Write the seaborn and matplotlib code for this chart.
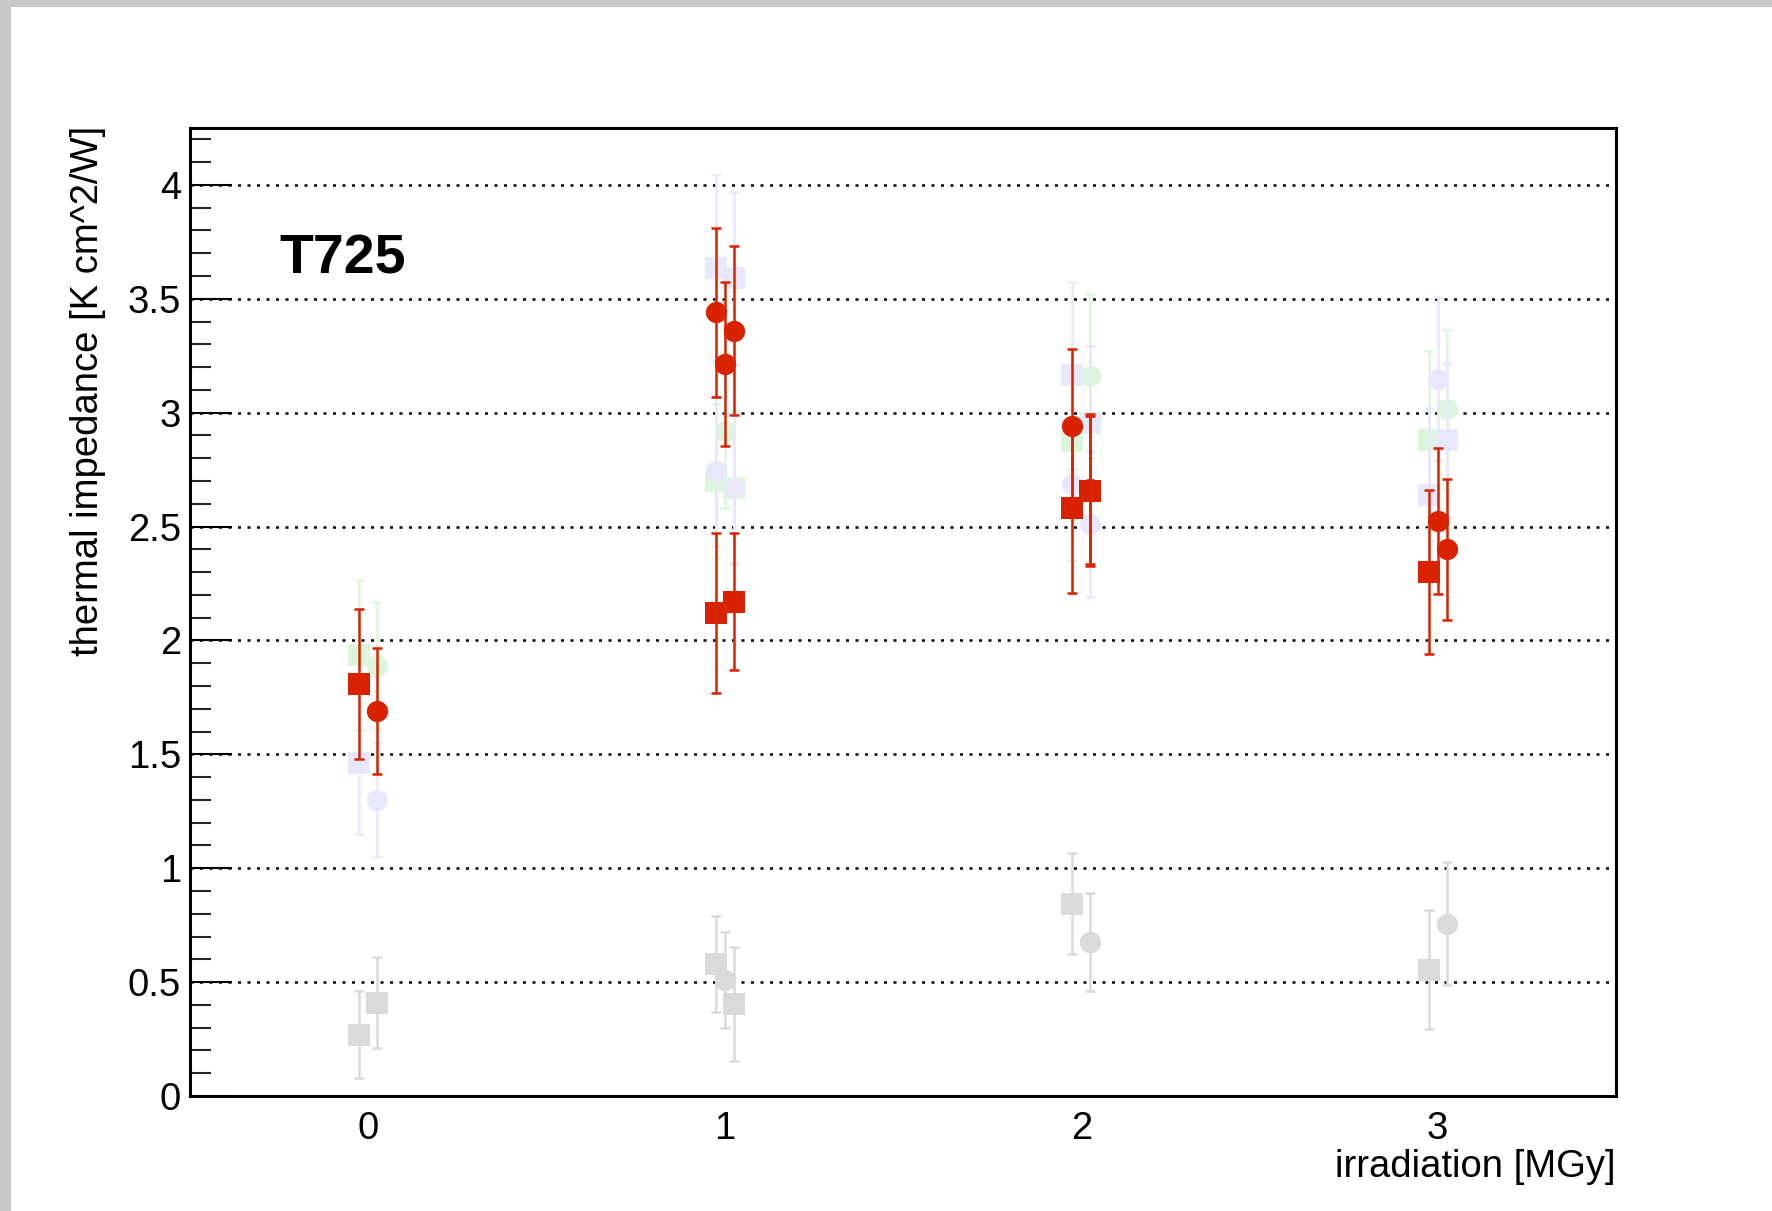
import numpy as np
import pandas as pd
import matplotlib
matplotlib.use("Agg")
import matplotlib.pyplot as plt
from matplotlib.patches import Rectangle
from matplotlib.ticker import MultipleLocator, FixedLocator, FixedFormatter
import seaborn as sns

# ---------------- data ----------------
dose_ticks = [0, 1, 2, 3]
dose_tick_labels = ["0", "1", "2", "3"]

# red squares (T725)
red_sq_dose = [0, 1, 1, 2, 2, 3]
red_sq_slot = [-1, -1, 1, -1, 1, -1]
red_sq_val = [1.81, 2.12, 2.17, 2.58, 2.655, 2.30]
red_sq_err = [0.33, 0.35, 0.30, 0.37, 0.33, 0.36]

# red circles (T725)
red_ci_dose = [0, 1, 1, 1, 2, 2, 3, 3]
red_ci_slot = [1, -1, 0, 1, -1, 1, 0, 1]
red_ci_val = [1.69, 3.44, 3.215, 3.36, 2.94, 2.665, 2.525, 2.40]
red_ci_err = [0.275, 0.37, 0.36, 0.37, 0.34, 0.33, 0.32, 0.31]

# light blue squares
blue_sq_dose = [0, 1, 1, 2, 2, 3, 3]
blue_sq_slot = [-1, -1, 1, -1, 1, -1, 1]
blue_sq_val = [1.46, 3.635, 3.59, 3.165, 2.955, 2.64, 2.88]
blue_sq_err = [0.31, 0.41, 0.38, 0.41, 0.34, 0.38, 0.34]

# light blue circles
blue_ci_dose = [0, 1, 1, 2, 2, 3]
blue_ci_slot = [1, -1, 1, -1, 1, 0]
blue_ci_val = [1.30, 2.745, 2.67, 2.685, 2.51, 3.15]
blue_ci_err = [0.25, 0.33, 0.33, 0.33, 0.32, 0.36]

# light green squares
green_sq_dose = [0, 1, 1, 2, 3]
green_sq_slot = [-1, -1, 1, -1, -1]
green_sq_val = [1.935, 2.70, 2.67, 2.875, 2.88]
green_sq_err = [0.33, 0.34, 0.34, 0.33, 0.39]

# light green circles
green_ci_dose = [0, 1, 2, 3]
green_ci_slot = [1, 0, 1, 1]
green_ci_val = [1.89, 2.92, 3.16, 3.015]
green_ci_err = [0.28, 0.34, 0.36, 0.35]

# gray squares
gray_sq_dose = [0, 0, 1, 1, 2, 3]
gray_sq_slot = [-1, 1, -1, 1, -1, -1]
gray_sq_val = [0.27, 0.41, 0.58, 0.405, 0.845, 0.555]
gray_sq_err = [0.19, 0.20, 0.21, 0.25, 0.22, 0.26]

# gray circles
gray_ci_dose = [1, 2, 3]
gray_ci_slot = [0, 1, 1]
gray_ci_val = [0.51, 0.675, 0.757]
gray_ci_err = [0.21, 0.215, 0.27]

# ---------------- style ----------------
SLOT_OFFSET = 0.025
C_RED = "#D92300"
C_BLUE = "#E8E8FB"
C_GREEN = "#DCF6DC"
C_GRAY = "#DADADA"
FS = 27.5

sns.set_theme(style="white")
plt.rcParams["font.family"] = ["Liberation Sans", "DejaVu Sans"]

W, H = 1772, 1211
fig = plt.figure(figsize=(W / 100, H / 100), dpi=100)
fig.patch.set_facecolor("white")

# gray frame strips (top & left)
fig.patches.append(Rectangle((0, 1 - 7 / H), 1, 7 / H, transform=fig.transFigure,
                             facecolor="#C8C8C8", edgecolor="none", zorder=0))
fig.patches.append(Rectangle((0, 0), 11 / W, 1, transform=fig.transFigure,
                             facecolor="#C8C8C8", edgecolor="none", zorder=0))

L, R, T, B = 190, 1616, 128, 1096
ax = fig.add_axes([L / W, 1 - B / H, (R - L) / W, (B - T) / H])
ax.set_facecolor("white")

series = [
    ("gray_sq", gray_sq_dose, gray_sq_slot, gray_sq_val, gray_sq_err, C_GRAY, "s"),
    ("gray_ci", gray_ci_dose, gray_ci_slot, gray_ci_val, gray_ci_err, C_GRAY, "o"),
    ("green_sq", green_sq_dose, green_sq_slot, green_sq_val, green_sq_err, C_GREEN, "s"),
    ("green_ci", green_ci_dose, green_ci_slot, green_ci_val, green_ci_err, C_GREEN, "o"),
    ("blue_sq", blue_sq_dose, blue_sq_slot, blue_sq_val, blue_sq_err, C_BLUE, "s"),
    ("blue_ci", blue_ci_dose, blue_ci_slot, blue_ci_val, blue_ci_err, C_BLUE, "o"),
    ("red_sq", red_sq_dose, red_sq_slot, red_sq_val, red_sq_err, C_RED, "s"),
    ("red_ci", red_ci_dose, red_ci_slot, red_ci_val, red_ci_err, C_RED, "o"),
]

z = 3
for name, d, sl, v, e, col, mk in series:
    df = pd.DataFrame({"dose": d, "slot": sl, "value": v, "err": e})
    df["x"] = df["dose"] + SLOT_OFFSET * df["slot"]
    ax.errorbar(df["x"], df["value"], yerr=df["err"], fmt="none", ecolor=col,
                elinewidth=1.8, capsize=3.8, capthick=1.8, zorder=z)
    sns.scatterplot(data=df, x="x", y="value", ax=ax, color=col, marker=mk,
                    s=235, linewidth=0, zorder=z + 1, legend=False)
    z += 2

ax.set_xlim(-0.5, 3.5)
ax.set_ylim(0, 4.25)
ax.set_xlabel("")
ax.set_ylabel("")

# grid
ax.yaxis.set_major_locator(MultipleLocator(0.5))
ax.yaxis.set_minor_locator(MultipleLocator(0.1))
ax.yaxis.grid(True, which="major", color="black", linestyle=(0, (1.2, 2.6)),
              linewidth=1.8, zorder=1)
ax.xaxis.grid(False)
ax.set_axisbelow(True)

# ticks
ax.xaxis.set_major_locator(FixedLocator(dose_ticks))
ax.xaxis.set_major_formatter(FixedFormatter(dose_tick_labels))
ax.tick_params(axis="x", which="both", length=0, labelsize=FS, pad=10.5, colors="black")
ax.tick_params(axis="y", which="major", direction="in", length=30, width=1.5,
               labelsize=FS, pad=6.5, left=True, right=False, colors="black")
ax.tick_params(axis="y", which="minor", direction="in", length=15, width=1.5,
               left=True, right=False)

def fmt(v, pos):
    s = f"{v:.1f}"
    return s[:-2] if s.endswith(".0") else s
ax.yaxis.set_major_formatter(matplotlib.ticker.FuncFormatter(fmt))

for sp in ax.spines.values():
    sp.set_visible(True)
    sp.set_color("black")
    sp.set_linewidth(2.2)

# texts
fig.text(279 / W, 1 - 274 / H, "T725", fontsize=40, fontweight="bold",
         ha="left", va="baseline", color="black")
fig.text(88 / W, 1 - 126 / H, "thermal impedance [K cm^2/W]", fontsize=FS,
         rotation=90, ha="center", va="top", color="black")
fig.text(1616 / W, 1 - 1167 / H, "irradiation [MGy]", fontsize=FS,
         ha="right", va="center", color="black")

fig.savefig("out.png", dpi=100, facecolor="white")
